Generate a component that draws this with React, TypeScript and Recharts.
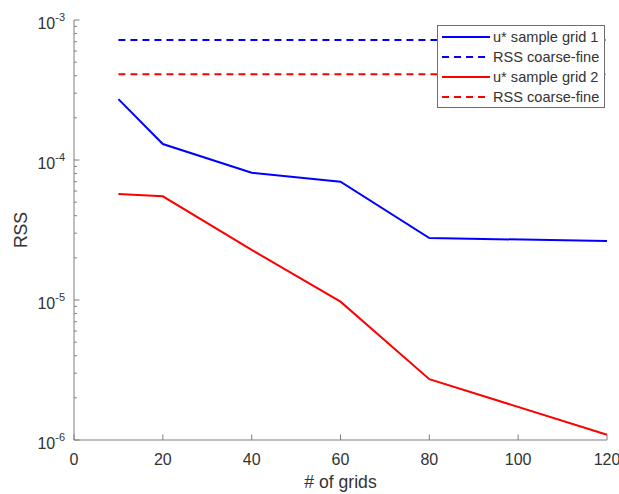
import React from 'react';
import { LineChart, Line, XAxis, YAxis, Legend } from 'recharts';

const grids = [10, 20, 40, 60, 80, 120];
const grid1RSS = [2.72e-4, 1.3e-4, 8.1e-5, 7.0e-5, 2.77e-5, 2.64e-5];
const grid2RSS = [5.72e-5, 5.5e-5, 2.28e-5, 9.73e-6, 2.72e-6, 1.09e-6];
const coarseFine1 = [7.2e-4, 7.2e-4, 7.2e-4, 7.2e-4, 7.2e-4, 7.2e-4];
const coarseFine2 = [4.1e-4, 4.1e-4, 4.1e-4, 4.1e-4, 4.1e-4, 4.1e-4];

const xTicks = [0, 20, 40, 60, 80, 100, 120];
const yMajorExps = [-6, -5, -4, -3];
const yMinorMultipliers = [2, 3, 4, 5, 6, 7, 8, 9];

const legendItems = [
  { label: 'u* sample grid 1', color: '#0000ff', dashed: false },
  { label: 'RSS coarse-fine', color: '#0000ff', dashed: true },
  { label: 'u* sample grid 2', color: '#ff0000', dashed: false },
  { label: 'RSS coarse-fine', color: '#ff0000', dashed: true },
];

const data = grids.map((g, i) => ({
  grids: g,
  g1: grid1RSS[i],
  cf1: coarseFine1[i],
  g2: grid2RSS[i],
  cf2: coarseFine2[i],
}));

const yTicks: number[] = [];
yMajorExps.forEach((e, idx) => {
  yTicks.push(Math.pow(10, e));
  if (idx < yMajorExps.length - 1) {
    yMinorMultipliers.forEach((m) => yTicks.push(m * Math.pow(10, e)));
  }
});

const FONT = '"Liberation Sans", Arial, sans-serif';
const AXIS = '#7f7f7f';
const TEXT = '#333333';

const YTick = (props: any) => {
  const { x, y, payload } = props;
  const v = payload.value;
  const lg = Math.log10(v);
  const exp = Math.round(lg);
  const major = Math.abs(lg - exp) < 1e-6;
  return (
    <g>
      <line x1={x} x2={x + (major ? 5.5 : 3)} y1={y} y2={y} stroke={AXIS} strokeWidth={1} />
      {major && (
        <text x={x - 9} y={y + 9} textAnchor="end" fill={TEXT} fontFamily={FONT} fontSize={16}>
          <tspan>10</tspan>
          <tspan dy={-8} fontSize={11}>{String(exp)}</tspan>
        </text>
      )}
    </g>
  );
};

const XTick = (props: any) => {
  const { x, y, payload } = props;
  return (
    <g>
      <line x1={x} x2={x} y1={y} y2={y - 5.5} stroke={AXIS} strokeWidth={1} />
      <text x={x} y={y + 25} textAnchor="middle" fill={TEXT} fontFamily={FONT} fontSize={16}>
        {payload.value}
      </text>
    </g>
  );
};

const LegendBox = () => (
  <div
    style={{
      border: '1px solid #6e6e6e',
      background: '#ffffff',
      width: 166,
      paddingTop: 1,
      paddingBottom: 0,
      boxSizing: 'content-box',
      fontFamily: FONT,
      fontSize: 14.6,
      color: TEXT,
    }}
  >
    {legendItems.map((it, i) => (
      <div key={i} style={{ display: 'flex', alignItems: 'center', height: 20, whiteSpace: 'nowrap' }}>
        <svg width={48} height={6} style={{ marginLeft: 4, marginRight: 3 }}>
          <line
            x1={0}
            x2={48}
            y1={3}
            y2={3}
            stroke={it.color}
            strokeWidth={2}
            strokeDasharray={it.dashed ? '7 5' : undefined}
          />
        </svg>
        <span>{it.label}</span>
      </div>
    ))}
  </div>
);

export default function App() {
  return (
    <div style={{ width: 619, height: 494 }}>
      <style>{`html,body{margin:0;padding:0;overflow:hidden;background:#fff}`}</style>
      <LineChart width={619} height={494} data={data} margin={{ top: 20, right: 12, bottom: 0, left: 0 }}>
        <XAxis
          dataKey="grids"
          type="number"
          domain={[0, 120]}
          ticks={xTicks}
          interval={0}
          height={54}
          tickSize={0}
          tickMargin={0}
          tickLine={false}
          axisLine={{ stroke: AXIS, strokeWidth: 1 }}
          tick={<XTick />}
          label={{
            content: (p: any) => {
              const vb = p.viewBox || {};
              return (
                <text x={vb.x + vb.width / 2} y={vb.y + 48} textAnchor="middle" fill={TEXT} fontFamily={FONT} fontSize={17.6}>
                  # of grids
                </text>
              );
            },
          }}
        />
        <YAxis
          type="number"
          scale="log"
          domain={[1e-6, 1e-3]}
          allowDataOverflow
          ticks={yTicks}
          interval={0}
          width={74}
          tickSize={0}
          tickMargin={0}
          tickLine={false}
          axisLine={{ stroke: AXIS, strokeWidth: 1 }}
          tick={<YTick />}
          label={{
            content: (p: any) => {
              const vb = p.viewBox || {};
              const cx = vb.x + 27;
              const cy = vb.y + vb.height / 2;
              return (
                <text
                  x={cx}
                  y={cy}
                  transform={`rotate(-90 ${cx} ${cy})`}
                  textAnchor="middle"
                  fill={TEXT}
                  fontFamily={FONT}
                  fontSize={17.6}
                >
                  RSS
                </text>
              );
            },
          }}
        />
        <Line type="linear" dataKey="g1" stroke="#0000ff" strokeWidth={2} dot={false} isAnimationActive={false} />
        <Line type="linear" dataKey="cf1" stroke="#0000ff" strokeWidth={2} strokeDasharray="7 5" dot={false} isAnimationActive={false} />
        <Line type="linear" dataKey="g2" stroke="#ff0000" strokeWidth={2} dot={false} isAnimationActive={false} />
        <Line type="linear" dataKey="cf2" stroke="#ff0000" strokeWidth={2} strokeDasharray="7 5" dot={false} isAnimationActive={false} />
        <Legend
          layout="vertical"
          align="center"
          verticalAlign="middle"
          wrapperStyle={{ left: 437, top: 25, width: 168 }}
          content={() => <LegendBox />}
        />
      </LineChart>
    </div>
  );
}
